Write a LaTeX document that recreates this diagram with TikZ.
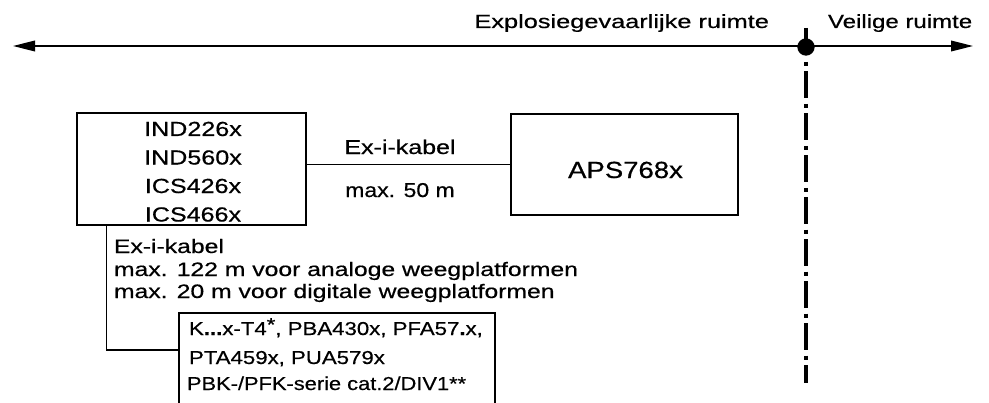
\documentclass[tikz,border=0pt]{standalone}
\usepackage{fontspec}
\setmainfont{Liberation Sans}[FakeBold=0.5]
\usepackage{graphicx}
\usetikzlibrary{arrows.meta}
\newcommand\hs[2]{\scalebox{#1}[1]{#2}}
\begin{document}
\begin{tikzpicture}[x=0.75pt,y=-0.75pt,
  box/.style={draw, line width=1pt, inner sep=0pt},
  t/.style={inner sep=0pt, outer sep=0pt},
  ftop/.style={font=\fontsize{14.3pt}{16pt}\selectfont},
  fa/.style={font=\fontsize{15.3pt}{18pt}\selectfont},
  fmid/.style={font=\fontsize{15pt}{18pt}\selectfont},
  faps/.style={font=\fontsize{17.5pt}{20pt}\selectfont},
  flow/.style={font=\fontsize{14.6pt}{17pt}\selectfont},
  fb/.style={font=\fontsize{14pt}{16pt}\selectfont},
  conn/.style={line width=1pt},
  axis/.style={line width=1.1pt, {Triangle[length=16.5pt,width=8pt]}-{Triangle[length=16.5pt,width=8pt]}},
  dotnode/.style={circle, fill, inner sep=0pt, minimum size=13pt},
  border/.style={line width=3.2pt},
  borderdash/.style={line width=3.2pt, dash pattern=on 3pt off 4.1pt on 20.25pt off 4.1pt}
]
\useasboundingbox (0,0) rectangle (989,403);

% zone labels
\node[t, ftop, anchor=base east] (exl) at (769,28) {\hs{1.33}{Explosiegevaarlijke ruimte}};
\node[t, ftop, anchor=base west] (vei) at (828,28) {\hs{1.26}{Veilige ruimte}};

% axis with arrows
\coordinate (L) at (13,46);
\coordinate (R) at (973,46);
\draw[axis] (L) -- (R);

% boundary
\node[dotnode] (D) at (806,47) {};
\coordinate (Dt) at (806,28);
\coordinate (Ds) at (806,62);
\coordinate (Db) at (806,383);
\draw[border] (Dt) -- (D.center);
\draw[borderdash] (Ds) -- (Db);

% left box
\node[box, minimum width=171.75pt, minimum height=84pt] (B1) at (191.5,169) {};
\node[t, fa, anchor=base] (l1) at (193,136) {\hs{1.23}{IND226x}};
\node[t, fa, anchor=base] (l2) at (193,164.5) {\hs{1.23}{IND560x}};
\node[t, fa, anchor=base] (l3) at (193,193) {\hs{1.23}{ICS426x}};
\node[t, fa, anchor=base] (l4) at (193,221.5) {\hs{1.23}{ICS466x}};

% APS box
\node[box, minimum width=170.25pt, minimum height=75.75pt] (B2) at (624.5,164.5) {};
\node[t, faps, anchor=base] (aps) at (625.5,178) {\hs{1.18}{APS768x}};

% connector between boxes
\draw[conn] (B1.east |- B2.west) -- (B2.west);
\node[t, fmid, anchor=base] (k1) at (400,154) {\hs{1.25}{Ex-i-kabel}};
\node[t, fmid, anchor=base] (k2) at (400,197) {\hs{1.15}{max. 50 m}};

% lower cable text
\node[t, flow, anchor=base west] (c1) at (114,253) {\hs{1.27}{Ex-i-kabel}};
\node[t, flow, anchor=base west] (c2) at (114,276) {\hs{1.27}{max. 122 m voor analoge weegplatformen}};
\node[t, flow, anchor=base west] (c3) at (114,298) {\hs{1.27}{max. 20 m voor digitale weegplatformen}};

% bottom box (open at the bottom edge)
\node[t, minimum width=237pt, minimum height=67.5pt] (B3) at (337,358) {};
\draw[line width=1pt] (B3.south west) |- (B3.north east) -- (B3.south east);
\node[t, fb, anchor=base west] (p1) at (189,335) {\hs{1.19}{K\textbf{...}x-T4\raisebox{3pt}{*}, PBA430x, PFA57\textbf{.}x,}};
\node[t, fb, anchor=base west] (p2) at (189,364) {\hs{1.19}{PTA459x, PUA579x}};
\node[t, fb, anchor=base west] (p3) at (187,390) {\hs{1.17}{PBK-/PFK-serie cat.2/DIV1**}};

% connector to bottom box
\draw[conn] ([xshift=22.5pt]B1.south west) |- ([yshift=6pt]B3.west);
\end{tikzpicture}
\end{document}
